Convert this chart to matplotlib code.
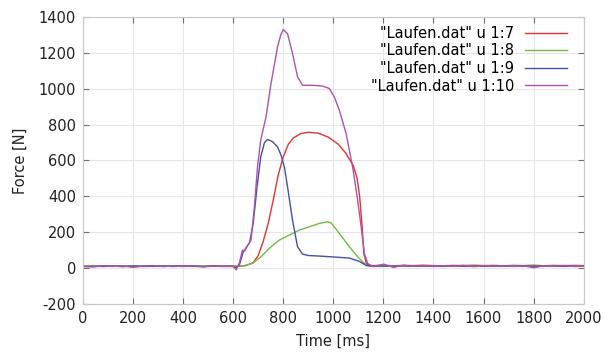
import matplotlib
matplotlib.use("Agg")
import matplotlib.pyplot as plt

# ---- data ----
base_t = [0, 40, 80, 120, 160, 200, 240, 280, 320, 360, 400, 440, 480, 520, 560, 600]
base_red = [12, 10, 13, 11, 12, 10, 13, 11, 12, 13, 10, 12, 11, 13, 12, 11]
base_grn = [10, 12, 11, 13, 10, 12, 11, 12, 13, 11, 12, 10, 13, 11, 12, 10]
base_blu = [8, 10, 9, 11, 8, 12, 9, 10, 11, 9, 12, 10, 8, 11, 9, 10]
base_pur = [10, 6, 13, 9, 12, 4, 11, 14, 8, 12, 9, 13, 7, 12, 10, 9]

tail_t = [1160, 1200, 1240, 1280, 1320, 1360, 1400, 1440, 1480, 1520, 1560, 1600,
          1640, 1680, 1720, 1760, 1800, 1840, 1880, 1920, 1960, 2000]
tail_red = [14, 16, 13, 15, 14, 16, 14, 13, 15, 14, 16, 14, 15, 13, 15, 14, 16, 13, 15, 14, 15, 14]
tail_grn = [12, 13, 12, 14, 12, 13, 12, 13, 12, 14, 12, 13, 12, 13, 14, 12, 13, 12, 13, 12, 13, 12]
tail_blu = [10, 11, 10, 12, 10, 11, 10, 11, 12, 10, 11, 10, 11, 12, 10, 11, 10, 12, 11, 10, 11, 10]
tail_pur = [8, 22, 4, 16, 10, 14, 9, 13, 11, 15, 8, 12, 10, 14, 9, 13, 2, 12, 10, 14, 9, 11]

# force, column 7 (red)
red_t = [620, 650, 680, 700, 720, 740, 760, 780, 800, 820, 840, 870, 900, 940, 980,
         1020, 1050, 1080, 1095, 1105, 1115, 1122, 1132, 1145]
red_v = [10, 14, 30, 70, 150, 250, 380, 520, 620, 690, 725, 750, 757, 752, 730,
         690, 640, 570, 500, 400, 230, 80, 25, 15]

# force, column 8 (green)
grn_t = [620, 640, 677, 711, 744, 784, 824, 864, 904, 944, 977, 991, 1024, 1064,
         1097, 1124, 1137, 1150]
grn_v = [10, 12, 26, 63, 110, 156, 184, 212, 230, 249, 258, 252, 193, 119,
         63, 26, 13, 12]

# force, column 9 (blue)
blu_t = [612, 625, 640, 650, 665, 680, 695, 710, 725, 737, 757, 777, 791, 805, 817,
         837, 857, 877, 900, 944, 1000, 1064, 1104, 1131, 1150]
blu_v = [2, 20, 90, 110, 140, 250, 450, 620, 700, 717, 705, 676, 630, 560, 453,
         267, 119, 78, 70, 67, 62, 56, 37, 15, 11]

# force, column 10 (purple, total)
pur_t = [612, 625, 637, 645, 655, 671, 684, 697, 710, 731, 751, 777, 790, 800, 817,
         837, 857, 877, 917, 957, 984, 1004, 1024, 1051, 1077, 1097, 1111, 1124,
         1137, 1150]
pur_v = [-10, 30, 100, 95, 120, 156, 330, 564, 713, 843, 1029, 1233, 1300, 1330,
         1307, 1196, 1066, 1019, 1019, 1015, 1001, 954, 880, 750, 564, 379, 230,
         82, 26, 15]

labels = ['"Laufen.dat" u 1:7', '"Laufen.dat" u 1:8',
          '"Laufen.dat" u 1:9', '"Laufen.dat" u 1:10']
colors = ["#e23232", "#72ba44", "#4052aa", "#b052aa"]

xticks = [0, 200, 400, 600, 800, 1000, 1200, 1400, 1600, 1800, 2000]
yticks = [-200, 0, 200, 400, 600, 800, 1000, 1200, 1400]

series = [
    (base_t + red_t + tail_t, base_red + red_v + tail_red),
    (base_t + grn_t + tail_t, base_grn + grn_v + tail_grn),
    (base_t + blu_t + tail_t, base_blu + blu_v + tail_blu),
    (base_t + pur_t + tail_t, base_pur + pur_v + tail_pur),
]

plt.rcParams['font.family'] = ['DejaVu Sans']
plt.rcParams['axes.unicode_minus'] = False
fig = plt.figure(figsize=(6.04, 3.61), dpi=100)
ax = fig.add_axes([0.1374, 0.158, 0.829, 0.795])

for (t, v), c, lab in zip(series, colors, labels):
    ax.plot(t, v, color=c, lw=1.0, label=lab)

ax.set_xlim(0, 2000)
ax.set_ylim(-200, 1400)
ax.set_xticks(xticks)
ax.set_yticks(yticks)
ax.tick_params(direction='in', length=4, width=0.8, color='#707070',
               labelsize=10.5, labelcolor='#222222', top=True, right=True, pad=5)
ax.grid(True, color='#e6e6e6', lw=0.8)
ax.set_axisbelow(True)
for s in ax.spines.values():
    s.set_color('#c8c8c8')
    s.set_linewidth(0.8)

ax.set_xlabel('Time [ms]', fontsize=10.5, color='#222222', labelpad=6)
ax.set_ylabel('Force [N]', fontsize=10.5, color='#222222', labelpad=8)

leg = ax.legend(loc='upper right', frameon=False, markerfirst=False,
                fontsize=10.5, handlelength=2.9, labelspacing=0.18,
                handletextpad=0.75, borderaxespad=0.2,
                bbox_to_anchor=(0.985, 1.0))
for line in leg.get_lines():
    line.set_linewidth(1.0)

fig.savefig('out.png', dpi=100)
